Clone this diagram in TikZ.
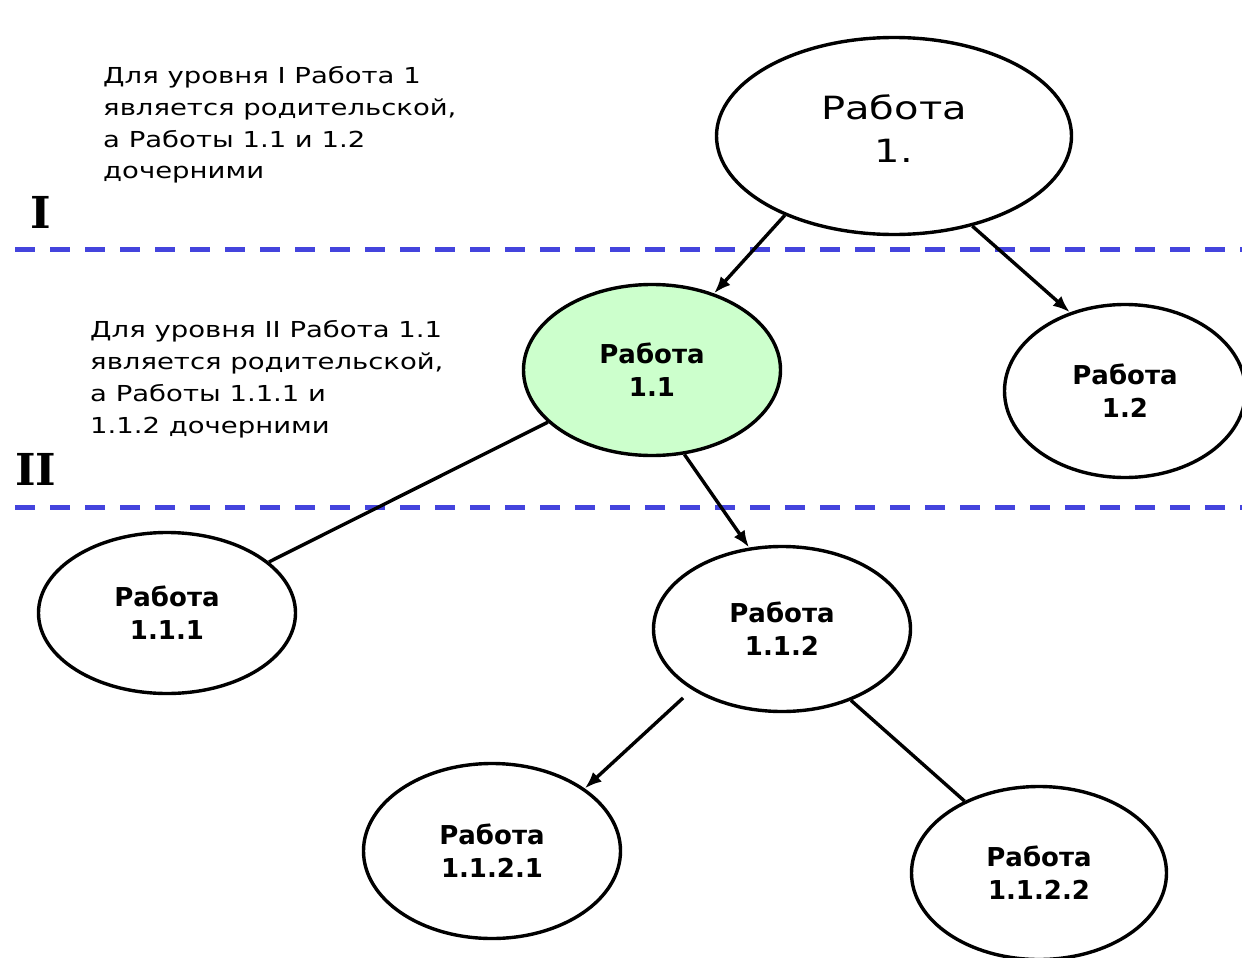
\documentclass[tikz,border=0pt]{standalone}
\usepackage{fontspec}
\usetikzlibrary{shapes.geometric,arrows.meta}
\newfontfamily\notefont[FakeStretch=1.25]{DejaVu Sans}
\newfontfamily\nodefont{DejaVu Sans}
\newfontfamily\levelfont{DejaVu Serif}
\definecolor{levelblue}{RGB}{68,68,221}
\definecolor{parentgreen}{RGB}{204,255,204}

\begin{document}
\begin{tikzpicture}[x=1pt,y=-1pt,
  work/.style={ellipse, draw=black, line width=3.4pt, fill=white, inner sep=0pt,
    align=center, font={\nodefont\bfseries\fontsize{26}{33}\selectfont}},
  rootwork/.style={work, font={\notefont\fontsize{32}{43}\selectfont}},
  note/.style={anchor=base west, inner sep=0pt,
    font={\notefont\fontsize{22}{26}\selectfont}},
  levelmark/.style={anchor=base west, inner sep=0pt,
    font={\levelfont\bfseries\fontsize{44}{44}\selectfont}},
  levelline/.style={draw=levelblue, line width=5pt, dash pattern=on 20pt off 15pt},
  link/.style={draw=black, line width=3.4pt},
  arrowlink/.style={link, -{Latex[length=17pt,width=13pt]}}
]
\useasboundingbox (0,0) rectangle (1242,958);
\fill[white] (0,0) rectangle (1242,958);

% level separators
\coordinate (sepIa) at (15,249);
\coordinate (sepIb) at (1250,249);
\coordinate (sepIIa) at (15,507);
\coordinate (sepIIb) at (1250,507);
\draw[levelline] (sepIa) -- (sepIb);
\draw[levelline] (sepIIa) -- (sepIIb);

% level marks
\node[levelmark] (lvlI) at (30,228) {I};
\node[levelmark] (lvlII) at (15,485) {II};

% explanatory notes
\node[note] (noteIa) at (103,83) {Для уровня I Работа 1};
\node[note] (noteIb) at (103,115) {является родительской,};
\node[note] (noteIc) at (103,147) {а Работы 1.1 и 1.2};
\node[note] (noteId) at (103,178) {дочерними};

\node[note] (noteIIa) at (90,337) {Для уровня II Работа 1.1};
\node[note] (noteIIb) at (90,369) {является родительской,};
\node[note] (noteIIc) at (90,401) {а Работы 1.1.1 и};
\node[note] (noteIId) at (90,433) {1.1.2 дочерними};

% work breakdown (the zero-width rule lifts the root caption a little)
\node[rootwork, minimum width=355pt, minimum height=197pt] (n1) at (894,136)
  {Работа\\1.\rule[-14pt]{0pt}{14pt}};
\node[work, fill=parentgreen, minimum width=257pt, minimum height=171pt] (n11) at (652,370) {Работа\\1.1};
\node[work, minimum width=241pt, minimum height=173pt] (n12) at (1125,391) {Работа\\1.2};
\node[work, minimum width=257pt, minimum height=161pt] (n111) at (167,613) {Работа\\1.1.1};
\node[work, minimum width=257pt, minimum height=165pt] (n112) at (782,629) {Работа\\1.1.2};
\node[work, minimum width=257pt, minimum height=175pt] (n1121) at (492,851) {Работа\\1.1.2.1};
\node[work, minimum width=255pt, minimum height=173pt] (n1122) at (1039,873) {Работа\\1.1.2.2};

% connectors
\draw[arrowlink] (n1.216) -- (n11.51);
\draw[arrowlink] (n1.-49) -- (n12.125);
\draw[link] (n11) -- (n111);
\draw[arrowlink] (n11.-69) -- (n112.112);
\draw[arrowlink, shorten <=12pt] (n112.214) -- (n1121.34);
\draw[link] (n112.-46) -- (n1122.136);
\end{tikzpicture}
\end{document}
